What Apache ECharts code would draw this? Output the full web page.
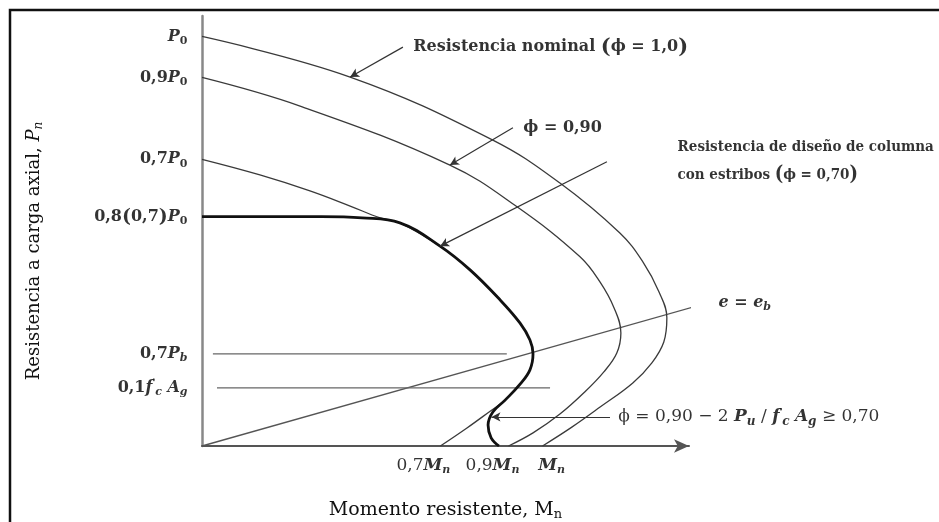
<!DOCTYPE html>
<html>
<head>
<meta charset="utf-8">
<script src="https://cdn.jsdelivr.net/npm/echarts@6/dist/echarts.min.js"></script>
<style>
  html, body { margin: 0; padding: 0; background: #fff; }
  #chart { width: 939px; height: 522px; }
</style>
</head>
<body>
<div id="chart"></div>
<script>
// Interaction diagram: axial load (in units of P0) versus moment (in units of Mn)

// Nominal strength envelope (phi = 1.0)
const nominalCurve = [[0, 1.0], [0.435, 0.901], [0.854, 0.747], [1.051, 0.642], [1.227, 0.520],
  [1.295, 0.449], [1.342, 0.376], [1.365, 0.313], [1.356, 0.254], [1.321, 0.203], [1.265, 0.154],
  [1.169, 0.095], [1.086, 0.046], [1.0, 0]];

// Envelope reduced with phi = 0.90
const phi90Curve = [[0, 0.9], [0.288, 0.830], [0.728, 0.686], [0.925, 0.584], [1.110, 0.462],
  [1.169, 0.400], [1.210, 0.337], [1.230, 0.276], [1.218, 0.227], [1.180, 0.181], [1.124, 0.132],
  [1.051, 0.078], [0.972, 0.032], [0.9, 0]];

// Envelope reduced with phi = 0.70
const phi70Curve = [[0, 0.7], [0.170, 0.662], [0.317, 0.623], [0.435, 0.586], [0.523, 0.557],
  [0.581, 0.545], [0.699, 0.488], [0.787, 0.430], [0.875, 0.357], [0.934, 0.300], [0.963, 0.259],
  [0.972, 0.225], [0.963, 0.186], [0.934, 0.151], [0.890, 0.112], [0.846, 0.085], [0.778, 0.044],
  [0.7, 0]];

// Design strength of a tied column (capped at 0.8 * 0.7 P0)
const designCurve = [[0, 0.56], [0.35, 0.56], [0.47, 0.557], [0.581, 0.545], [0.699, 0.488],
  [0.787, 0.430], [0.875, 0.357], [0.934, 0.300], [0.963, 0.259], [0.972, 0.225], [0.963, 0.186],
  [0.934, 0.151], [0.890, 0.112], [0.854, 0.083], [0.840, 0.051], [0.849, 0.020], [0.872, 0]];

// Balanced eccentricity ray and reference load levels
const balancedRay = [[0, 0], [1.483, 0.349]];
const balancedLoadLine = [[0.032, 0.225], [0.895, 0.225]];
const minLoadLine = [[0.044, 0.142], [1.022, 0.142]];

// Leader lines [from, to]
const leaders = [
  [[0.590, 0.974], [0.435, 0.901]],
  [[0.913, 0.777], [0.728, 0.686]],
  [[1.189, 0.694], [0.699, 0.488]],
  [[1.198, 0.071], [0.850, 0.071]]
];

// Load levels marked on the vertical axis
const loadTickValues = [1.0, 0.9, 0.7, 0.56, 0.225, 0.142];
const loadTickLabels = [
  '{i|P}{s|0}',
  '{n|0,9}{i|P}{s|0}',
  '{n|0,7}{i|P}{s|0}',
  '{n|0,8}{par|(}{n|0,7}{par|)}{i|P}{s|0}',
  '{n|0,7}{i|P}{si|b}',
  '{n|0,1}{i|f}{sp|\'}{si|c}{n| }{i|A}{si|g}'
];

// Moment levels marked on the horizontal axis
const momentTickValues = [0.7, 0.9, 1.0];
const momentTickLabels = ['{m|0,7}{mi|M}{si|n}', '{m|0,9}{mi|M}{si|n}', '{mi|M}{si|n}'];

// Annotation anchors and texts
const notePoints = [[0.619, 0.974], [0.942, 0.777], [1.395, 0.696], [1.515, 0.349], [1.221, 0.071]];
const noteTexts = [
  '{b|Resistencia nominal }{bpar|(}{b|ϕ = 1,0}{bpar|)}',
  '{b|ϕ = 0,90}',
  '{d|Resistencia de diseño de columna}\n{d|con estribos }{dpar|(}{d|ϕ = 0,70}{dpar|)}',
  '{bi|e}{b| = }{bi|e}{bsi|b}',
  '{f|ϕ = 0,90 − 2 }{fi|P}{fs|u}{f| / }{fi|f}{sp|\'}{fs|c}{f| }{fi|A}{fs|g}{f| ≥ 0,70}'
];

const FONT = 'DejaVu Serif';
const NARROW = '"DejaVu Serif Condensed", "DejaVu Serif"';
const INK = '#000';
const richStyles = {
  n:   { fontFamily: FONT, fontSize: 16, color: INK, fontWeight: 'bold' },
  i:   { fontFamily: FONT, fontSize: 16, color: INK, fontStyle: 'italic', fontWeight: 'bold' },
  s:   { fontFamily: FONT, fontSize: 11, color: INK, fontWeight: 'bold', padding: [9, 0, 0, 0] },
  si:  { fontFamily: FONT, fontSize: 11, color: INK, fontStyle: 'italic', fontWeight: 'bold', padding: [9, 0, 0, 0] },
  sp:  { fontFamily: FONT, fontSize: 10, color: INK, padding: [0, 0, 10, 0] },
  par: { fontFamily: FONT, fontSize: 19, color: INK, fontWeight: 'bold' },
  m:   { fontFamily: FONT, fontSize: 17, color: INK },
  mi:  { fontFamily: FONT, fontSize: 17, color: INK, fontStyle: 'italic', fontWeight: 'bold' },
  b:   { fontFamily: FONT, fontSize: 16, color: INK, fontWeight: 'bold' },
  bi:  { fontFamily: FONT, fontSize: 16, color: INK, fontWeight: 'bold', fontStyle: 'italic' },
  bsi: { fontFamily: FONT, fontSize: 11, color: INK, fontWeight: 'bold', fontStyle: 'italic', padding: [9, 0, 0, 0] },
  bpar:{ fontFamily: FONT, fontSize: 21, color: INK, fontWeight: 'bold' },
  d:   { fontFamily: NARROW, fontSize: 15, color: INK, fontWeight: 'bold', lineHeight: 28 },
  dpar:{ fontFamily: NARROW, fontSize: 20, color: INK, fontWeight: 'bold', lineHeight: 28 },
  f:   { fontFamily: FONT, fontSize: 17, color: INK },
  fi:  { fontFamily: FONT, fontSize: 17, color: INK, fontStyle: 'italic', fontWeight: 'bold' },
  fs:  { fontFamily: FONT, fontSize: 12, color: INK, fontStyle: 'italic', fontWeight: 'bold', padding: [9, 0, 0, 0] }
};

const thin = { color: '#3a3a3a', width: 1.3 };

function curve(data, lineStyle) {
  return { type: 'line', data: data, smooth: 0.4, symbol: 'none', silent: true, clip: false,
    lineStyle: lineStyle, z: 3 };
}

function textLayer(points, texts, position, distance, offsets) {
  return {
    type: 'scatter', silent: true, clip: false, symbolSize: 1, z: 5,
    itemStyle: { color: 'rgba(0,0,0,0)' },
    data: points.map((p, k) => ({
      value: p,
      label: offsets ? { offset: offsets[k] } : {}
    })),
    label: {
      show: true, position: position, distance: distance, color: INK,
      formatter: (p) => texts[p.dataIndex],
      rich: richStyles
    }
  };
}

const chart = echarts.init(document.getElementById('chart'), null, { renderer: 'canvas' });

chart.setOption({
  backgroundColor: '#fff',
  animation: false,
  textStyle: { fontFamily: FONT },
  grid: { left: 202, top: 16, width: 487, height: 430, containLabel: false, outerBoundsMode: 'none' },
  xAxis: {
    type: 'value', min: 0, max: 1.43,
    axisLine: { show: true, symbol: ['none', 'arrow'], symbolSize: [10, 15],
      lineStyle: { color: '#555', width: 2 } },
    axisTick: { show: false }, axisLabel: { show: false }, splitLine: { show: false },
    name: '{t|Momento resistente, M}{ts|n}',
    nameLocation: 'middle', nameGap: 53,
    nameTextStyle: { rich: {
      t: { fontFamily: FONT, fontSize: 19, color: '#111' },
      ts: { fontFamily: FONT, fontSize: 13, color: '#111', padding: [9, 0, 0, 0] }
    } }
  },
  yAxis: {
    type: 'value', min: 0, max: 1.05,
    axisLine: { show: true, lineStyle: { color: '#888', width: 2.5 } },
    axisTick: { show: false }, axisLabel: { show: false }, splitLine: { show: false },
    name: '{t|Resistencia a carga axial, }{ti|P}{ts|n}',
    nameLocation: 'middle', nameGap: 157,
    nameTextStyle: { padding: [0, 40, 0, 0], rich: {
      t: { fontFamily: FONT, fontSize: 18, color: '#111' },
      ti: { fontFamily: FONT, fontSize: 18, color: '#111', fontStyle: 'italic' },
      ts: { fontFamily: FONT, fontSize: 12, color: '#111', fontStyle: 'italic', padding: [9, 0, 0, 0] }
    } }
  },
  graphic: [{
    type: 'polyline', silent: true,
    shape: { points: [[10, 522], [10, 10], [939, 10]] },
    style: { stroke: '#111', lineWidth: 2.5, fill: null }
  }],
  series: [
    curve(nominalCurve, thin),
    curve(phi90Curve, thin),
    curve(phi70Curve, thin),
    curve(designCurve, { color: '#111', width: 2.8 }),
    {
      type: 'line', data: balancedRay, symbol: 'none', silent: true, clip: false,
      lineStyle: { color: '#555', width: 1.3 }, z: 2,
      markLine: {
        silent: true, symbol: ['none', 'arrow'], symbolSize: [7, 9],
        label: { show: false },
        lineStyle: { color: '#333', width: 1.2, type: 'solid' },
        data: leaders.map(l => [{ coord: l[0] }, { coord: l[1] }])
      }
    },
    { type: 'line', data: balancedLoadLine, symbol: 'none', silent: true,
      lineStyle: { color: '#666', width: 1.4 }, z: 2 },
    { type: 'line', data: minLoadLine, symbol: 'none', silent: true,
      lineStyle: { color: '#666', width: 1.4 }, z: 2 },
    textLayer(loadTickValues.map(v => [0, v]), loadTickLabels, 'left', 14),
    textLayer(momentTickValues.map(v => [v, 0]), momentTickLabels, 'bottom', 9,
      [[-17, 0], [-16, 0], [9, 0]]),
    textLayer(notePoints, noteTexts, 'right', 0)
  ]
});
</script>
</body>
</html>
